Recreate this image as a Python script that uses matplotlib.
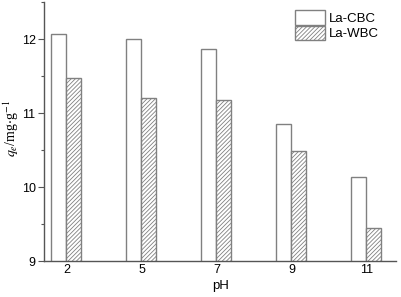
import matplotlib
matplotlib.use("Agg")
import matplotlib.pyplot as plt
from matplotlib.ticker import MultipleLocator
import numpy as np

categories = ["2", "5", "7", "9", "11"]
la_cbc = [12.07, 12.00, 11.87, 10.85, 10.13]
la_wbc = [11.47, 11.20, 11.18, 10.48, 9.45]

plt.rcParams['font.family'] = ['Liberation Sans', 'DejaVu Sans']
plt.rcParams['hatch.linewidth'] = 0.6
plt.rcParams['hatch.color'] = '#444444'
plt.rcParams['mathtext.fontset'] = 'stix'

fig = plt.figure(figsize=(4.01, 2.97), dpi=100)
ax = fig.add_axes([0.1097, 0.1212, 0.879, 0.872])

x = np.arange(len(categories))
w = 0.2
ax.bar(x - w / 2, la_cbc, width=w, color='white', edgecolor='#808080',
       linewidth=1.0, label='La-CBC')
ax.bar(x + w / 2, la_wbc, width=w, color='white', edgecolor='#808080',
       linewidth=1.0, hatch='////////', label='La-WBC')

ax.set_ylim(9, 12.5)
ax.set_xlim(-0.30, 4.4)
ax.set_xticks(x)
ax.set_xticklabels(categories)
ax.yaxis.set_major_locator(MultipleLocator(1))
ax.yaxis.set_minor_locator(MultipleLocator(0.5))

for s in ['top', 'right']:
    ax.spines[s].set_visible(False)
for s in ['left', 'bottom']:
    ax.spines[s].set_color('#555555')
    ax.spines[s].set_linewidth(1.0)

ax.tick_params(axis='y', which='major', direction='out', length=4, width=0.8,
               labelsize=9, colors='#555555', labelcolor='black', pad=2)
ax.tick_params(axis='y', which='minor', direction='out', length=2, width=0.8,
               colors='#555555')
ax.tick_params(axis='x', which='both', length=0, labelsize=9, pad=2)

ax.set_xlabel('pH', fontsize=9.5, labelpad=3)
ax.set_ylabel(r'$q_e$/mg$\cdot$g$^{-1}$', fontsize=10, family='Liberation Serif')
ax.yaxis.set_label_coords(-0.066, 0.51)

leg = ax.legend(loc='upper left', bbox_to_anchor=(0.712, 0.97), frameon=False,
                fontsize=9.5, handlelength=2.3, handleheight=1.35,
                labelspacing=0.08, handletextpad=0.25, borderaxespad=0.0,
                borderpad=0.0)

fig.savefig('out.png', dpi=100)
